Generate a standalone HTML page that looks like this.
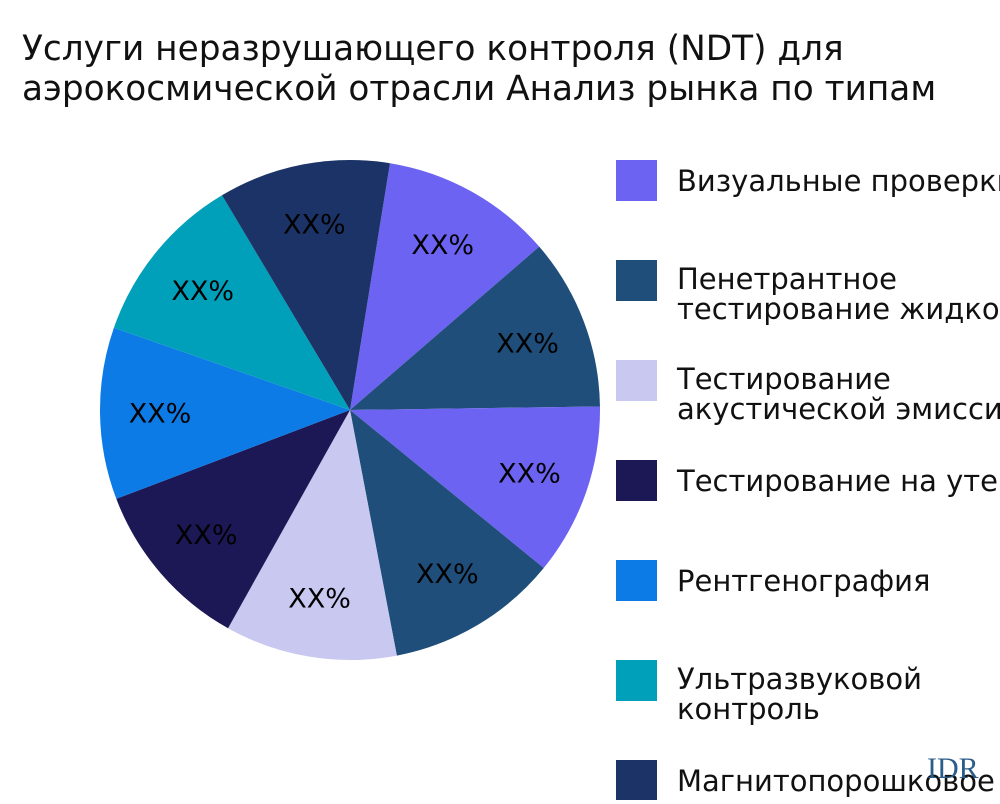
<!DOCTYPE html>
<html><head><meta charset="utf-8"><style>
body{margin:0;background:#fff;width:1000px;height:800px;overflow:hidden;font-family:"DejaVu Sans","Liberation Sans",sans-serif}
</style></head><body>
<svg id="c" width="1000" height="800" xmlns="http://www.w3.org/2000/svg">
<text x="22" y="60" font-size="34.3" fill="#111">Услуги неразрушающего контроля (NDT) для</text>
<text x="22" y="100" font-size="34.3" fill="#111">аэрокосмической отрасли Анализ рынка по типам</text>
<g id="slices"></g><g id="legend"></g>
<text x="927" y="778" font-size="30" font-family="Liberation Serif,serif" fill="#2b5d8a">IDR</text>
</svg>
<script>
const categories=["Визуальные проверки","Пенетрантное тестирование жидкостей","Тестирование акустической эмиссии","Тестирование на утечки","Рентгенография","Ультразвуковой контроль","Магнитопорошковое","Прочее 1","Прочее 2"];
const values=[1,1,1,1,1,1,1,1,1];
const labels=["XX%","XX%","XX%","XX%","XX%","XX%","XX%","XX%","XX%"];
const sliceColors=["#6C63F2","#1F4E7A","#6C63F2","#1F4E7A","#C8C8F0","#1C1855","#0C7BE6","#00A0BA","#1B3366"];
const legendNames=[["Визуальные проверки"],["Пенетрантное","тестирование жидкостей"],["Тестирование","акустической эмиссии"],["Тестирование на утечки"],["Рентгенография"],["Ультразвуковой","контроль"],["Магнитопорошковое"]];
const legendColors=["#6C63F2","#1F4E7A","#C8C8F0","#1C1855","#0C7BE6","#00A0BA","#1B3366"];
const NS="http://www.w3.org/2000/svg";
const cx=350,cy=410,R=250,start=9.2;
const total=values.reduce((a,b)=>a+b,0);
const g=document.getElementById('slices');
let acc=0;
function pt(deg,r){const a=deg*Math.PI/180;return [cx+r*Math.sin(a),cy-r*Math.cos(a)];}
values.forEach((v,i)=>{
 const a0=start+acc/total*360, a1=start+(acc+v)/total*360; acc+=v;
 const p0=pt(a0,R),p1=pt(a1,R);
 const p=document.createElementNS(NS,'path');
 p.setAttribute('d',`M${cx},${cy}L${p0[0]},${p0[1]}A${R},${R} 0 ${a1-a0>180?1:0} 1 ${p1[0]},${p1[1]}Z`);
 p.setAttribute('fill',sliceColors[i]);
 
 
 g.appendChild(p);
 const m=pt((a0+a1)/2,R*0.76);
 const t=document.createElementNS(NS,'text');
 t.setAttribute('x',m[0]);t.setAttribute('y',m[1]+10);
 t.setAttribute('text-anchor','middle');t.setAttribute('font-size','27');t.setAttribute('fill','#000');
 t.textContent=labels[i];
 
 
 g.appendChild(t);
});
const lg=document.getElementById('legend');
legendNames.forEach((n,i)=>{
 const y=160+i*100;
 const r=document.createElementNS(NS,'rect');
 r.setAttribute('x',616);r.setAttribute('y',y);r.setAttribute('width',41);r.setAttribute('height',41);r.setAttribute('fill',legendColors[i]);
 
 
 lg.appendChild(r);
 n.forEach((line,j)=>{
  const t=document.createElementNS(NS,'text');
  t.setAttribute('x',677);t.setAttribute('y',(n.length==1?y+31:y+29+j*30));
  t.setAttribute('font-size','29');t.setAttribute('fill','#111');
  t.textContent=line;
  
  
  lg.appendChild(t);
 });
});
</script>
</body></html>
